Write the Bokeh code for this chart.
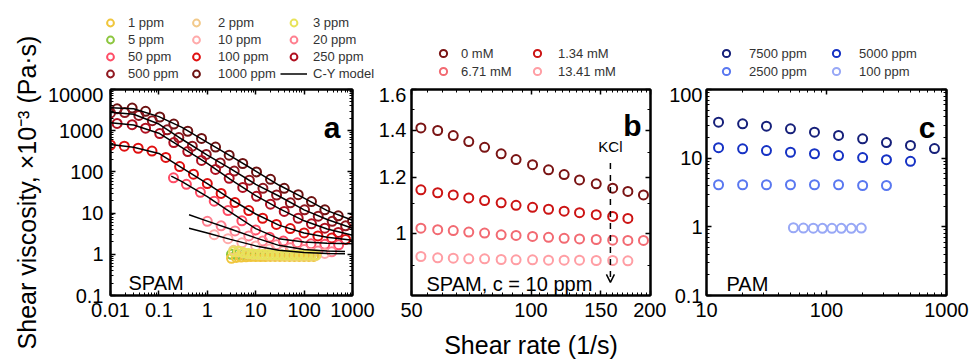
from bokeh.plotting import figure
from bokeh.models import (LogAxis, FixedTicker, CustomJSTickFormatter, Legend,
                          LegendItem, Label, Arrow, OpenHead, Range1d)
from bokeh.layouts import row, column
from bokeh.embed import file_html
from bokeh.resources import INLINE

FONT = "Liberation Sans"

# ---------------- Panel a : SPAM, concentration series ----------------
a_x_g1 = [0.0137, 0.028, 0.053, 0.104, 0.203, 0.395, 0.76, 1.48, 2.83, 5.4,
          10.4, 20.2, 38.8, 75.5, 142, 268, 507, 1000]
a_x_g2 = [0.01, 0.0197, 0.0385, 0.073, 0.148, 0.258, 0.49, 0.95, 1.85, 3.6,
          7.4, 14.1, 27, 52, 102, 196, 380, 720]
a_x_g3 = [0.01, 0.0193, 0.0373, 0.072, 0.139, 0.268, 0.518, 1.0, 1.93, 3.73,
          7.2, 13.9, 26.8, 51.8, 100, 193, 373, 720]
a_x_50 = [0.2, 0.37, 0.72, 1.39, 2.68, 5.18, 10, 19.3, 37.3, 72, 139, 268, 518]
a_x_20 = [1.0, 1.93, 3.73, 7.2, 13.9, 26.8, 51.8, 100, 193, 373]
a_x_10 = [1.39, 2.68, 5.18, 10, 19.3, 37.3, 72, 139, 268]
a_x_low = [3.16, 3.98, 5.01, 6.31, 7.94, 10, 12.6, 15.8, 20, 25.1, 31.6, 39.8,
           50.1, 63.1, 79.4, 100, 126, 158]
a_x_low2 = [3.5, 4.4, 5.6, 7.0, 8.8, 11.1, 14, 17.6, 22.2, 27.9, 35.1, 44.2,
            55.7, 70.1, 88.3, 111, 140, 176]

a_y_1000 = [3400, 3550, 2950, 2150, 1450, 970, 650, 400, 255, 160, 100, 66,
            40, 28, 19, 12, 8.6, 6.3]
a_y_500 = [2700, 2750, 2350, 1750, 1050, 680, 420, 265, 165, 105, 63, 40,
           27.5, 17.8, 12, 8.4, 6.3, 4.9]
a_y_250 = [1500, 1400, 1150, 850, 515, 312, 190, 115, 70, 42, 25.5, 16.5, 11,
           7.5, 5.5, 4.3, 3.4]
a_y_100 = [450, 420, 375, 320, 225, 135, 88, 52, 30, 18, 11.5, 7.5, 5.3, 4.2,
           3.3, 2.8, 2.5, 2.3]
a_y_50 = [72, 50, 32, 19.5, 11.5, 6.5, 3.9, 2.6, 2.1, 1.9, 1.8, 1.75, 1.7]
a_y_20 = [6.3, 4.9, 3.7, 2.8, 2.1, 1.7, 1.45, 1.3, 1.2, 1.15]
a_y_10 = [3.0, 2.4, 1.9, 1.6, 1.35, 1.2, 1.12, 1.07, 1.05]
a_y_5 = [1.0, 0.98, 0.97, 0.96, 0.95, 0.95, 0.94, 0.94, 0.93, 0.93, 0.93,
         0.93, 0.92, 0.92, 0.92, 0.92, 0.92, 0.92]
a_y_3 = [1.15, 1.2, 1.1, 1.05, 1.02, 1.0, 0.99, 0.98, 0.97, 0.97, 0.96, 0.96,
         0.96, 0.96, 0.96, 0.96, 0.96, 0.96]
a_y_2 = [1.25, 1.15, 1.08, 1.03, 1.0, 0.98, 0.97, 0.96, 0.95, 0.95, 0.95,
         0.94, 0.94, 0.94, 0.94, 0.94, 0.94, 0.94]
a_y_1 = [0.80, 0.84, 0.86, 0.87, 0.88, 0.88, 0.88, 0.88, 0.89, 0.89, 0.89,
         0.89, 0.89, 0.89, 0.89, 0.89, 0.89, 0.89]

# C-Y model curves
cy_x_hi = [0.01, 0.03, 0.1, 0.3, 1, 3, 10, 30, 100, 300, 1000]
cy_1000 = [3600, 3400, 2200, 1200, 520, 245, 105, 48, 23, 11.5, 6.7]
cy_500 = [2800, 2500, 1450, 620, 255, 120, 50, 26, 12, 7.0, 4.3]
cy_250 = [1550, 1380, 870, 390, 160, 66, 26.5, 13, 6.5, 4.1, 2.9]
cy_100 = [460, 395, 280, 125, 52, 22, 9.5, 5.1, 3.3, 2.6, 2.2]
cy_x_50 = [0.18, 0.3, 1, 3, 10, 30, 100, 300, 1000]
cy_50 = [79, 58, 25, 10.5, 4.2, 2.4, 2.0, 1.85, 1.8]
cy_x_lo = [0.42, 1, 3, 10, 30, 100, 300, 700]
cy_20 = [9.1, 6.4, 4.1, 2.5, 1.65, 1.3, 1.2, 1.17]
cy_10 = [4.3, 3.3, 2.3, 1.6, 1.25, 1.1, 1.05, 1.03]

# ---------------- Panel b : SPAM 10 ppm with KCl ----------------
b_x = [52.8, 58.2, 63.7, 69.7, 76.4, 84.1, 91.7, 100.9, 110.7, 121.2, 132.5,
       146, 160.6, 175.4, 192]
b_y_0 = [1.411, 1.399, 1.376, 1.349, 1.324, 1.296, 1.272, 1.251, 1.230, 1.211,
         1.190, 1.175, 1.158, 1.146, 1.133]
b_y_134 = [1.152, 1.141, 1.133, 1.122, 1.112, 1.104, 1.095, 1.088, 1.081,
           1.074, 1.069, 1.062, 1.056, 1.049]
b_y_671 = [1.016, 1.011, 1.008, 1.003, 1.0, 0.994, 0.992, 0.989, 0.986, 0.983,
           0.981, 0.979, 0.977, 0.976, 0.976]
b_y_1341 = [0.926, 0.922, 0.921, 0.919, 0.919, 0.917, 0.916, 0.916, 0.915,
            0.915, 0.915, 0.914, 0.914, 0.913]
kcl_rate = 158.5
kcl_top, kcl_bottom = 1.258, 0.851

# ---------------- Panel c : PAM ----------------
c_x = [12.6, 20, 31.6, 50.1, 79.4, 126, 200, 316, 501, 794]
c_y_7500 = [33.4, 31.6, 29.2, 26.8, 23.9, 21.4, 19.1, 16.9, 15.3, 13.8]
c_y_5000 = [14.2, 13.7, 12.9, 12.2, 11.6, 10.9, 10.2, 9.5, 9.0]
c_y_2500 = [4.1, 4.1, 4.1, 4.1, 4.1, 4.1, 4.0, 4.0]
c_x_100 = [53, 64.2, 77.6, 92.6, 111, 133, 161, 195]
c_y_100 = [0.97, 0.96, 0.955, 0.95, 0.95, 0.95, 0.95, 0.96]

# ---------------- styling helpers ----------------
fmt_js = "return String(tick);"
blank_js = "return '';"
TOTAL_H = 363
LEG_H = 87
PLOT_H = TOTAL_H - LEG_H
TITLE_W = 44


def log_minor(e0, e1):
    return [k * 10.0 ** e for e in range(e0, e1) for k in range(2, 10)]


def style_axis(ax, ticks, minor, labels, standoff=7):
    ax.ticker = FixedTicker(ticks=ticks, minor_ticks=minor)
    ax.formatter = CustomJSTickFormatter(code=fmt_js if labels else blank_js)
    ax.major_tick_in = 5
    ax.major_tick_out = 0
    ax.minor_tick_in = 3
    ax.minor_tick_out = 0
    ax.axis_line_width = 2
    ax.axis_line_color = "black"
    ax.major_tick_line_width = 1.5
    ax.minor_tick_line_width = 1
    ax.major_tick_line_color = "black"
    ax.minor_tick_line_color = "black"
    ax.major_label_text_font = FONT
    ax.major_label_text_font_size = "20px" if labels else "0px"
    ax.major_label_text_color = "black"
    ax.major_label_standoff = standoff if labels else 0
    ax.axis_label_text_font = FONT
    ax.axis_label_text_font_style = "normal"
    ax.axis_label_text_font_size = "25px"
    ax.axis_label_text_color = "black"


def make_fig(width, bl, br, xr, yr, xt, xm, yt, ym, ystand=7):
    p = figure(width=width, height=PLOT_H, x_axis_type="log",
               y_axis_type="log",
               x_range=Range1d(*xr), y_range=Range1d(*yr),
               output_backend="svg", toolbar_location=None,
               min_border_left=bl, min_border_right=br,
               min_border_top=2, min_border_bottom=68)
    p.xgrid.visible = False
    p.ygrid.visible = False
    p.outline_line_color = "black"
    p.outline_line_width = 2
    p.background_fill_color = "white"
    p.border_fill_color = "white"
    xa = p.below[0]
    ya = p.left[0]
    style_axis(xa, xt, xm, True)
    style_axis(ya, yt, ym, True, ystand)
    top = LogAxis()
    right = LogAxis()
    style_axis(top, xt, xm, False)
    style_axis(right, yt, ym, False)
    p.add_layout(top, "above")
    p.add_layout(right, "right")
    return p, xa, ya


def circles(p, x, y, color, size=9):
    return p.scatter(x, y, marker="circle", size=size, fill_color=None,
                     line_color=color, line_width=2)


def panel_text(p, text, x, y, size="20px", bold=False, align="left"):
    p.add_layout(Label(x=x, y=y, x_units="screen", y_units="screen",
                       text=text, text_font=FONT, text_font_size=size,
                       text_font_style="bold" if bold else "normal",
                       text_color="black", text_align=align,
                       text_baseline="alphabetic"))


# colours
col_a = {"1": "#f0c63c", "2": "#f2c98a", "3": "#e8e35a", "5": "#8cc63f",
         "10": "#ffaaaa", "20": "#ff8090", "50": "#ff4d66", "100": "#e01010",
         "250": "#b01020", "500": "#901820", "1000": "#6e1212"}
col_b = ["#7a1414", "#cc1414", "#f26a72", "#ff9ea4"]
col_c = ["#16207a", "#1632c4", "#5a78f0", "#98a8f6"]
line_kw = dict(line_color="black", line_width=1.5)

# ---------------- y-axis title strip ----------------
tf = figure(width=TITLE_W, height=TOTAL_H, x_range=Range1d(0, 1),
            y_range=Range1d(0, 1), output_backend="svg",
            toolbar_location=None, x_axis_location=None,
            min_border_left=40, min_border_right=0,
            min_border_top=89, min_border_bottom=68)
tf.xgrid.visible = False
tf.ygrid.visible = False
tf.outline_line_color = None
tax = tf.left[0]
tax.ticker = FixedTicker(ticks=[])
tax.formatter = CustomJSTickFormatter(code=blank_js)
tax.major_label_text_font_size = "0px"
tax.major_label_standoff = 0
tax.major_tick_out = 0
tax.major_tick_in = 0
tax.minor_tick_out = 0
tax.minor_tick_in = 0
tax.axis_line_color = None
tax.axis_label = "Shear viscosity, \u00d710\u207b\u00b3 (Pa\u00b7s)"
tax.axis_label_standoff = 0
tax.axis_label_text_font = FONT
tax.axis_label_text_font_style = "normal"
tax.axis_label_text_font_size = "25px"
tax.axis_label_text_color = "black"

# ---------------- Panel a ----------------
WA, WB, WC = 375 - TITLE_W, 291, 304
pa, pa_x, pa_y = make_fig(WA, 110 - TITLE_W, 23, (0.01, 1000), (0.1, 10000),
                          [0.01, 0.1, 1, 10, 100, 1000], log_minor(-2, 3),
                          [0.1, 1, 10, 100, 1000, 10000], log_minor(-1, 4))
circles(pa, a_x_g1, a_y_1000, col_a["1000"])
circles(pa, a_x_g2, a_y_500, col_a["500"])
circles(pa, a_x_g1[:17], a_y_250, col_a["250"])
circles(pa, a_x_g3, a_y_100, col_a["100"])
circles(pa, a_x_50, a_y_50, col_a["50"])
circles(pa, a_x_20, a_y_20, col_a["20"])
circles(pa, a_x_10, a_y_10, col_a["10"])
circles(pa, a_x_low, a_y_5, col_a["5"])
circles(pa, a_x_low, a_y_1, col_a["1"])
circles(pa, a_x_low2, a_y_2, col_a["2"])
circles(pa, a_x_low2, a_y_3, col_a["3"])
pa.line(cy_x_hi, cy_1000, **line_kw)
pa.line(cy_x_hi, cy_500, **line_kw)
pa.line(cy_x_hi, cy_250, **line_kw)
pa.line(cy_x_hi, cy_100, **line_kw)
pa.line(cy_x_50, cy_50, **line_kw)
pa.line(cy_x_lo, cy_20, **line_kw)
pa.line(cy_x_lo, cy_10, **line_kw)
panel_text(pa, "a", 230, 168, size="30px", bold=True, align="right")
panel_text(pa, "SPAM", 18, 13)

# ---------------- Panel b ----------------
pb, pb_x, pb_y = make_fig(WB, 33, 16, (50, 200), (0.815, 1.6),
                          [50, 100, 150, 200],
                          [55, 60, 65, 70, 75, 80, 85, 90, 95, 105, 110, 115,
                           120, 125, 130, 135, 140, 145, 155, 160, 165, 170,
                           175, 180, 185, 190, 195],
                          [1, 1.2, 1.4, 1.6], [0.9, 1.1, 1.3, 1.5], ystand=5)
pb_x.axis_label = "Shear rate (1/s)"
pb_x.axis_label_standoff = 11
circles(pb, b_x, b_y_0, col_b[0])
circles(pb, b_x[:14], b_y_134, col_b[1])
circles(pb, b_x, b_y_671, col_b[2])
circles(pb, b_x[:14], b_y_1341, col_b[3])
pb.add_layout(Arrow(x_start=kcl_rate, y_start=kcl_top, x_end=kcl_rate,
                    y_end=kcl_bottom, line_color="black", line_width=1.5,
                    line_dash="dashed",
                    end=OpenHead(size=8, line_width=1.5, line_color="black")))
pb.add_layout(Label(x=kcl_rate, y=kcl_top, y_offset=8, text="KCl",
                    text_font=FONT, text_font_size="15px", text_align="center",
                    text_baseline="bottom", text_color="black"))
panel_text(pb, "b", 230, 170, size="30px", bold=True, align="right")
panel_text(pb, "SPAM, c = 10 ppm", 15, 12)

# ---------------- Panel c ----------------
pc, pc_x, pc_y = make_fig(WC, 38, 24, (10, 1000), (0.1, 100),
                          [10, 100, 1000], log_minor(1, 3),
                          [0.1, 1, 10, 100], log_minor(-1, 2), ystand=4)
circles(pc, c_x, c_y_7500, col_c[0])
circles(pc, c_x[:9], c_y_5000, col_c[1])
circles(pc, c_x[:8], c_y_2500, col_c[2])
circles(pc, c_x_100, c_y_100, col_c[3])
panel_text(pc, "c", 229, 168, size="30px", bold=True, align="right")
panel_text(pc, "PAM", 20, 12)

# ---------------- legend strip (swatch renderers lie outside its ranges) ----
lf = figure(width=WA + WB + WC, height=LEG_H, x_range=Range1d(-2, -1),
            y_range=Range1d(-2, -1), output_backend="svg",
            toolbar_location=None, x_axis_location=None,
            y_axis_location=None, min_border=0)
lf.xgrid.visible = False
lf.ygrid.visible = False
lf.outline_line_color = None

sa = {
    "1": circles(lf, a_x_low, a_y_1, col_a["1"]),
    "2": circles(lf, a_x_low2, a_y_2, col_a["2"]),
    "3": circles(lf, a_x_low2, a_y_3, col_a["3"]),
    "5": circles(lf, a_x_low, a_y_5, col_a["5"]),
    "10": circles(lf, a_x_10, a_y_10, col_a["10"]),
    "20": circles(lf, a_x_20, a_y_20, col_a["20"]),
    "50": circles(lf, a_x_50, a_y_50, col_a["50"]),
    "100": circles(lf, a_x_g3, a_y_100, col_a["100"]),
    "250": circles(lf, a_x_g1[:17], a_y_250, col_a["250"]),
    "500": circles(lf, a_x_g2, a_y_500, col_a["500"]),
    "1000": circles(lf, a_x_g1, a_y_1000, col_a["1000"]),
}
sa_line = lf.line(cy_x_hi, cy_1000, **line_kw)
sb = [circles(lf, b_x, b_y_0, col_b[0]),
      circles(lf, b_x[:14], b_y_134, col_b[1]),
      circles(lf, b_x, b_y_671, col_b[2]),
      circles(lf, b_x[:14], b_y_1341, col_b[3])]
sc = [circles(lf, c_x, c_y_7500, col_c[0]),
      circles(lf, c_x[:9], c_y_5000, col_c[1]),
      circles(lf, c_x[:8], c_y_2500, col_c[2]),
      circles(lf, c_x_100, c_y_100, col_c[3])]


def add_legend(pairs, x, y, glyph_w=22, glyph_h=17, standoff=7):
    items = [LegendItem(label=t, renderers=[r]) for t, r in pairs]
    lg = Legend(items=items, location=(x, y), orientation="vertical",
                glyph_width=glyph_w, glyph_height=glyph_h, label_height=14,
                spacing=0, label_standoff=standoff, padding=0, margin=0,
                border_line_color=None, background_fill_alpha=0,
                label_text_font=FONT, label_text_font_size="13px",
                label_text_color="#333333")
    lf.add_layout(lg, "center")


add_legend([("1 ppm", sa["1"]), ("5 ppm", sa["5"]), ("50 ppm", sa["50"]),
            ("500 ppm", sa["500"])], 99 - TITLE_W, 5, standoff=7)
add_legend([("2 ppm", sa["2"]), ("10 ppm", sa["10"]), ("100 ppm", sa["100"]),
            ("1000 ppm", sa["1000"])], 185 - TITLE_W, 5, standoff=11)
add_legend([("3 ppm", sa["3"]), ("20 ppm", sa["20"]), ("250 ppm", sa["250"]),
            ("C-Y model", sa_line)], 280 - TITLE_W, 5, glyph_w=27, standoff=6)
add_legend([("0 mM", sb[0]), ("6.71 mM", sb[2])], 432 - TITLE_W, 7,
           glyph_h=18, standoff=7)
add_legend([("1.34 mM", sb[1]), ("13.41 mM", sb[3])], 526 - TITLE_W, 7,
           glyph_h=18, standoff=10)
add_legend([("7500 ppm", sc[0]), ("2500 ppm", sc[2])], 715 - TITLE_W, 7,
           glyph_h=18, standoff=12)
add_legend([("5000 ppm", sc[1]), ("100 ppm", sc[3])], 825 - TITLE_W, 7,
           glyph_h=18, standoff=12)

layout = row(tf, column(lf, row(pa, pb, pc)))
open("out.html", "w").write(file_html(layout, INLINE))
